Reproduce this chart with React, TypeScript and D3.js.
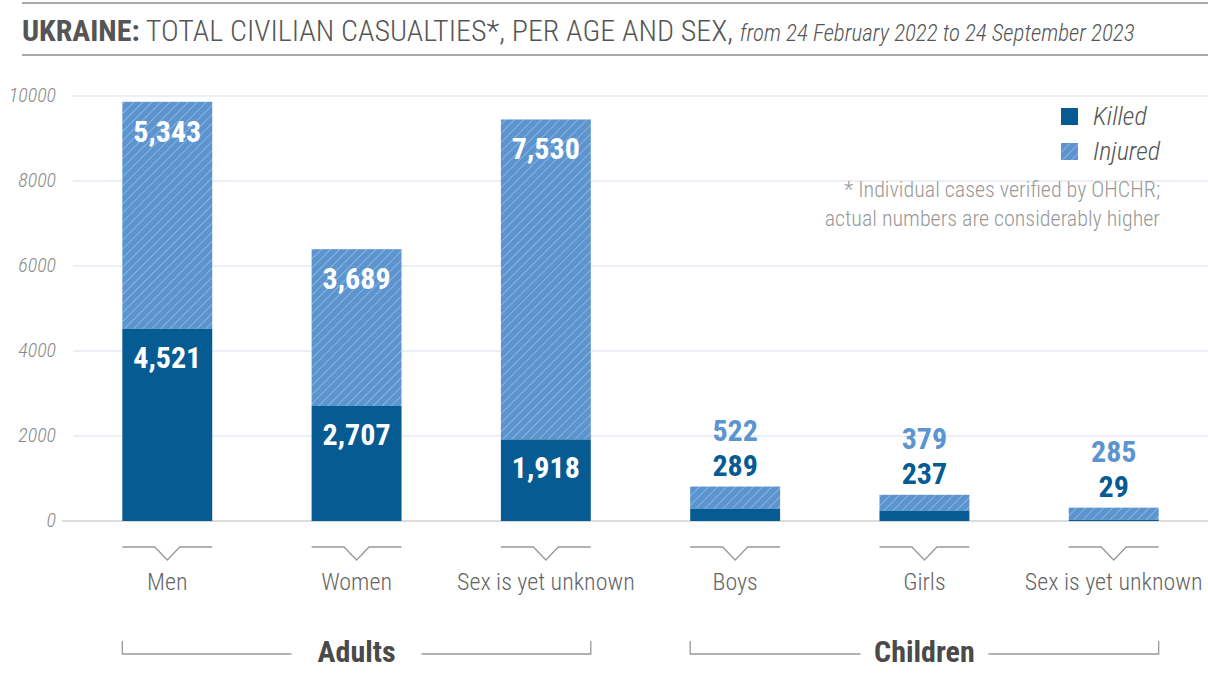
import React from "react";
import * as d3 from "d3";

const categories = ["Men", "Women", "Sex is yet unknown", "Boys", "Girls", "Sex is yet unknown "];
const groupOf = ["Adults", "Adults", "Adults", "Children", "Children", "Children"];
const killed = [4521, 2707, 1918, 289, 237, 29];
const injured = [5343, 3689, 7530, 522, 379, 285];
const yTicks = [0, 2000, 4000, 6000, 8000, 10000];
const groups = ["Adults", "Children"];

const W = 1208;
const H = 684;
const FONT = "'Roboto Condensed', 'Liberation Sans Narrow', 'DejaVu Sans Condensed', Roboto, sans-serif";
const KILLED_C = "#055b92";
const INJ_C = "#5b94cf";

export default function App() {
  const x = d3.scaleBand<string>().domain(categories).range([75, 1206]).paddingInner(0.525).paddingOuter(0.25);
  const y = d3.scaleLinear().domain([0, 10000]).range([521, 96]);
  const bw = x.bandwidth();
  const fmt = d3.format(",");

  return (
    <svg width={W} height={H} style={{ position: "absolute", left: 0, top: 0, background: "#fff" }} fontFamily={FONT}>
      <defs>
        <pattern id="hatch" patternUnits="userSpaceOnUse" width={6.4} height={6.4} patternTransform="rotate(45)">
          <rect width={6.4} height={6.4} fill={INJ_C} />
          <line x1={0} y1={0} x2={0} y2={6.4} stroke="#ffffff" strokeOpacity={0.45} strokeWidth={1.3} />
        </pattern>
      </defs>
      {/* title */}
      <line x1={22} x2={W} y1={3} y2={3} stroke="#aaa" strokeWidth={2} />
      <line x1={22} x2={W} y1={55} y2={55} stroke="#aaa" strokeWidth={2} />
      <text x={22} y={41} fill="#555" fontSize={30}>
        <tspan fontWeight="bold">UKRAINE:</tspan>
        <tspan fontWeight={300}> TOTAL CIVILIAN CASUALTIES*, PER AGE AND SEX, </tspan>
        <tspan fontStyle="italic" fontSize={23} fontWeight={300}>from 24 February 2022 to 24 September 2023</tspan>
      </text>
      {/* grid */}
      {yTicks.map((t) => (
        <g key={t}>
          <line x1={t === 0 ? 62 : 73} x2={W} y1={y(t)} y2={y(t)} stroke={t === 0 ? "#d0d0d0" : "#e6ebf3"} strokeWidth={1.5} />
          <text x={56} y={y(t) + 6} textAnchor="end" fontStyle="italic" fontSize={20} fontWeight={300} fill="#888">{t}</text>
        </g>
      ))}
      {/* bars */}
      {categories.map((c, i) => {
        const x0 = x(c)!;
        const yk = y(killed[i]);
        const yt = y(killed[i] + injured[i]);
        const inside = y(0) - yk > 60;
        const cx = x0 + bw / 2;
        return (
          <g key={c + i}>
            <rect x={x0} width={bw} y={yt} height={yk - yt} fill="url(#hatch)" />
            <rect x={x0} width={bw} y={yk} height={y(0) - yk} fill={KILLED_C} />
            {inside ? (
              <>
                <text x={cx} y={yt + 40} textAnchor="middle" fill="#fff" fontWeight="bold" fontSize={30}>{fmt(injured[i])}</text>
                <text x={cx} y={yk + 39} textAnchor="middle" fill="#fff" fontWeight="bold" fontSize={30}>{fmt(killed[i])}</text>
              </>
            ) : (
              <>
                <text x={cx} y={yt - 11} textAnchor="middle" fill={KILLED_C} fontWeight="bold" fontSize={30}>{fmt(killed[i])}</text>
                <text x={cx} y={yt - 46} textAnchor="middle" fill={INJ_C} fontWeight="bold" fontSize={30}>{fmt(injured[i])}</text>
              </>
            )}
            <path
              d={`M${x0},547 H${cx - 12.5} L${cx},560 L${cx + 12.5},547 H${x0 + bw}`}
              fill="none"
              stroke="#999"
              strokeWidth={1.3}
            />
            <text x={cx} y={590} textAnchor="middle" fontSize={24} fontWeight={300} fill="#666">{c.trim()}</text>
          </g>
        );
      })}
      {/* group brackets */}
      {groups.map((g) => {
        const members = categories.filter((_, i) => groupOf[i] === g);
        const x1 = x(members[0])!;
        const x2 = x(members[members.length - 1])! + bw;
        const cx = (x1 + x2) / 2;
        const gap = g === "Adults" ? 65 : 64;
        return (
          <g key={g}>
            <path d={`M${x1},641 V654 H${cx - gap}`} fill="none" stroke="#999" strokeWidth={1.3} />
            <path d={`M${cx + gap},654 H${x2} V641`} fill="none" stroke="#999" strokeWidth={1.3} />
            <text x={cx} y={662} textAnchor="middle" fontWeight="bold" fontSize={30} fill="#4a4a4a">{g}</text>
          </g>
        );
      })}
      {/* legend */}
      <rect x={1061} y={108} width={17} height={17} fill={KILLED_C} />
      <text x={1093} y={125} fontStyle="italic" fontSize={26} fontWeight={300} fill="#555">Killed</text>
      <rect x={1061} y={143} width={17} height={17} fill="url(#hatch)" />
      <text x={1093} y={160} fontStyle="italic" fontSize={26} fontWeight={300} fill="#555">Injured</text>
      <text x={1160} y={197} textAnchor="end" fontSize={22} fill="#999" fontWeight={300}>* Individual cases verified by OHCHR;</text>
      <text x={1160} y={226} textAnchor="end" fontSize={22} fill="#999" fontWeight={300}>actual numbers are considerably higher</text>
    </svg>
  );
}
